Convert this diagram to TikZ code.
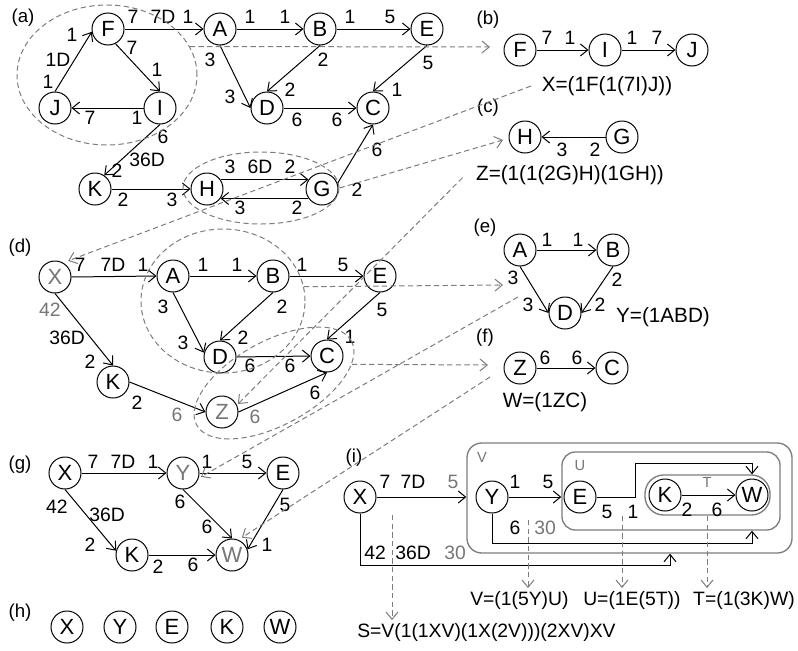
\documentclass[tikz,border=0pt]{standalone}
\usepackage{fontspec}
\setmainfont{Liberation Sans}
\usetikzlibrary{arrows.meta,shapes.geometric,calc}
\definecolor{gtext}{RGB}{118,118,118}
\definecolor{gline}{RGB}{125,125,125}
\begin{document}
\begin{tikzpicture}[x=0.75pt,y=-0.75pt,
  nd/.style={circle,draw,line width=0.75pt,minimum size=24pt,inner sep=0pt,font=\fontsize{16.5}{18}\selectfont},
  gnd/.style={nd,text=gtext},
  lb/.style={inner sep=0pt,font=\fontsize{14.5}{16}\selectfont},
  glb/.style={lb,text=gtext},
  fm/.style={inner sep=0pt,font=\fontsize{15.5}{18}\selectfont},
  fmi/.style={inner sep=0pt,font=\fontsize{14.5}{17}\selectfont},
  pl/.style={inner sep=0pt,font=\fontsize{14}{16}\selectfont},
  bl/.style={inner sep=0pt,text=gtext,font=\fontsize{11}{13}\selectfont},
  arr/.style={line width=0.75pt,-{Straight Barb[length=5.5pt,width=9pt]}},
  gd/.style={draw=gline,line width=0.75pt,dash pattern=on 4pt off 2.5pt},
  garr/.style={gd,-{Straight Barb[length=5.5pt,width=9pt]}},
  ell/.style={ellipse,draw=gline,line width=0.75pt,dash pattern=on 4pt off 2.5pt,inner sep=0pt},
  gbox/.style={draw=gline,line width=1pt,inner sep=0pt}
]
\useasboundingbox (0,0) rectangle (798,650);

% ---------------- panel (a)
\node[pl] (la) at (23,18) {(a)};
\node[nd] (aF) at (108,29) {F};
\node[nd] (aJ) at (55,108) {J};
\node[nd] (aI) at (160,108) {I};
\node[nd] (aA) at (220,29) {A};
\node[nd] (aB) at (320,29) {B};
\node[nd] (aE) at (427,29) {E};
\node[nd] (aD) at (267,108) {D};
\node[nd] (aC) at (373,108) {C};
\node[nd] (aK) at (95,189) {K};
\node[nd] (aH) at (207,189) {H};
\node[nd] (aG) at (322,189) {G};
\draw[arr] (aJ.north) -- (aF.190);
\draw[arr] (aF.-63) -- (aI.north);
\draw[arr] (aI.west) -- (aJ.east);
\draw[arr] (aF.east) -- (aA.west);
\draw[arr] (aA.east) -- (aB.west);
\draw[arr] (aB.east) -- (aE.west);
\draw[arr] (aA.south) -- (aD.west);
\draw[arr] (aB.south) -- (aD.north);
\draw[arr] (aE.south) -- (aC.north);
\draw[arr] (aD.east) -- (aC.west);
\draw[arr] (aG.20) -- (aC.south);
\draw[arr] (aI.south) -- (aK.56);
\draw[arr] (aK.east) -- (aH.west);
\draw[arr] (aH.35) -- (aG.145);
\draw[arr] (aG.-145) -- (aH.-35);
\node[lb] (a1) at (133,17) {7};
\node[lb] (a2) at (163,17) {7D};
\node[lb] (a3) at (188,17) {1};
\node[lb] (a4) at (250,17) {1};
\node[lb] (a5) at (285,17) {1};
\node[lb] (a6) at (350,17) {1};
\node[lb] (a7) at (390,17) {5};
\node[lb] (a8) at (72,35) {1};
\node[lb] (a9) at (58,60) {1D};
\node[lb] (a10) at (48,82) {1};
\node[lb] (a11) at (132,48) {7};
\node[lb] (a12) at (157,70) {1};
\node[lb] (a13) at (90,118) {7};
\node[lb] (a14) at (137,118) {1};
\node[lb] (a15) at (210,60) {3};
\node[lb] (a16) at (230,97) {3};
\node[lb] (a17) at (323,60) {2};
\node[lb] (a18) at (290,90) {2};
\node[lb] (a19) at (428,63) {5};
\node[lb] (a20) at (397,90) {1};
\node[lb] (a21) at (297,120) {6};
\node[lb] (a22) at (337,120) {6};
\node[lb] (a23) at (377,150) {6};
\node[lb] (a24) at (357,190) {2};
\node[lb] (a25) at (163,137) {6};
\node[lb] (a26) at (147,160) {36D};
\node[lb] (a27) at (117,171) {2};
\node[lb] (a28) at (123,200) {2};
\node[lb] (a29) at (172,200) {3};
\node[lb] (a30) at (230,167) {3};
\node[lb] (a31) at (260,167) {6D};
\node[lb] (a32) at (290,167) {2};
\node[lb] (a33) at (240,208) {3};
\node[lb] (a34) at (297,208) {2};
\node[ell,minimum width=135pt,minimum height=105pt] (ea) at (107,75) {};
\node[ell,minimum width=117pt,minimum height=54pt] (eb) at (261,188) {};

% ---------------- panel (b), (c)
\node[pl] (lbb) at (488,20) {(b)};
\node[nd] (bF) at (520,50) {F};
\node[nd] (bI) at (605,50) {I};
\node[nd] (bJ) at (692,50) {J};
\draw[arr] (bF.east) -- (bI.west);
\draw[arr] (bI.east) -- (bJ.west);
\node[lb] (b1) at (547,38) {7};
\node[lb] (b2) at (570,38) {1};
\node[lb] (b3) at (632,38) {1};
\node[lb] (b4) at (657,38) {7};
\node[fm] (mX) at (607,86) {X=(1F(1(7I)J))};
\node[pl] (lc) at (488,108) {(c)};
\node[nd] (cH) at (525,137) {H};
\node[nd] (cG) at (622,137) {G};
\draw[arr] (cG.west) -- (cH.east);
\node[lb] (c1) at (562,150) {3};
\node[lb] (c2) at (595,150) {2};
\node[fm] (mZ) at (570,175) {Z=(1(1(2G)H)(1GH))};

% ---------------- panel (d)
\node[pl] (ld) at (20,248) {(d)};
\node[gnd] (dX) at (55,277) {X};
\node[nd] (dA) at (173,276) {A};
\node[nd] (dB) at (273,276) {B};
\node[nd] (dE) at (380,276) {E};
\node[nd] (dD) at (220,357) {D};
\node[nd] (dC) at (327,356) {C};
\node[nd] (dK) at (113,382) {K};
\node[gnd] (dZ) at (222,412) {Z};
\draw[arr] (dX.east) -- (dA.west);
\draw[arr] (dA.east) -- (dB.west);
\draw[arr] (dB.east) -- (dE.west);
\draw[arr] (dX.south) -- (dK.north);
\draw[arr] (dA.south) -- (dD.165);
\draw[arr] (dB.south) -- (dD.north);
\draw[arr] (dE.south) -- (dC.north);
\draw[arr] (dD.east) -- (dC.west);
\draw[arr] (dK.east) -- (dZ.west);
\draw[arr] (dZ.east) -- (dC.south);
\node[lb] (d1) at (80,265) {7};
\node[lb] (d2) at (113,265) {7D};
\node[lb] (d3) at (143,265) {1};
\node[lb] (d4) at (203,265) {1};
\node[lb] (d5) at (237,265) {1};
\node[lb] (d6) at (302,265) {1};
\node[lb] (d7) at (343,265) {5};
\node[glb] (d8) at (50,310) {42};
\node[lb] (d9) at (67,338) {36D};
\node[lb] (d10) at (90,362) {2};
\node[lb] (d11) at (163,307) {3};
\node[lb] (d12) at (183,343) {3};
\node[lb] (d13) at (282,307) {2};
\node[lb] (d14) at (243,338) {2};
\node[lb] (d15) at (382,310) {5};
\node[lb] (d16) at (350,337) {1};
\node[lb] (d17) at (250,366) {6};
\node[lb] (d18) at (290,366) {6};
\node[lb] (d19) at (315,393) {6};
\node[glb] (d20) at (255,417) {6};
\node[lb] (d21) at (137,403) {2};
\node[glb] (d22) at (177,415) {6};
\node[ell,minimum width=123pt,minimum height=108pt] (ec) at (223,301) {};
\node[ell,minimum width=132pt,minimum height=63pt,rotate=28.5] (ed) at (274,383) {};

% ---------------- panel (e), (f)
\node[pl] (le) at (485,228) {(e)};
\node[nd] (eA) at (520,250) {A};
\node[nd] (eB) at (613,250) {B};
\node[nd] (eD) at (565,313) {D};
\draw[arr] (eA.east) -- (eB.west);
\draw[arr] (eA.south) -- (eD.west);
\draw[arr] (eB.south) -- (eD.east);
\node[lb] (e1) at (547,240) {1};
\node[lb] (e2) at (578,240) {1};
\node[lb] (e3) at (513,278) {3};
\node[lb] (e4) at (528,305) {3};
\node[lb] (e5) at (617,280) {2};
\node[lb] (e6) at (600,305) {2};
\node[fm] (mY) at (663,317) {Y=(1ABD)};
\node[pl] (lf) at (485,338) {(f)};
\node[nd] (fZ) at (520,368) {Z};
\node[nd] (fC) at (612,368) {C};
\draw[arr] (fZ.east) -- (fC.west);
\node[lb] (f1) at (545,358) {6};
\node[lb] (f2) at (577,358) {6};
\node[fm] (mW) at (545,402) {W=(1ZC)};

% ---------------- panel (g), (h)
\node[pl] (lg) at (20,465) {(g)};
\node[nd] (gX) at (65,473) {X};
\node[gnd] (gY) at (183,473) {Y};
\node[nd] (gE) at (283,473) {E};
\node[nd] (gK) at (132,555) {K};
\node[gnd] (gW) at (232,555) {W};
\draw[arr] (gX.east) -- (gY.west);
\draw[arr] (gY.east) -- (gE.west);
\draw[arr] (gX.south) -- (gK.165);
\draw[arr] (gY.south) -- (gW.north);
\draw[arr] (gE.south) -- (gW.20);
\draw[arr] (gK.east) -- (gW.west);
\node[lb] (g1) at (93,462) {7};
\node[lb] (g2) at (123,462) {7D};
\node[lb] (g3) at (153,462) {1};
\node[lb] (g4) at (207,462) {1};
\node[lb] (g5) at (247,462) {5};
\node[lb] (g6) at (57,507) {42};
\node[lb] (g7) at (107,515) {36D};
\node[lb] (g8) at (90,545) {2};
\node[lb] (g9) at (180,502) {6};
\node[lb] (g10) at (207,527) {6};
\node[lb] (g11) at (285,505) {5};
\node[lb] (g12) at (267,545) {1};
\node[lb] (g13) at (158,567) {2};
\node[lb] (g14) at (193,565) {6};
\node[pl] (lh) at (20,613) {(h)};
\node[nd] (hX) at (67,627) {X};
\node[nd] (hY) at (120,627) {Y};
\node[nd] (hE) at (172,627) {E};
\node[nd] (hK) at (227,627) {K};
\node[nd] (hW) at (280,627) {W};

% ---------------- panel (i)
\node[pl] (li) at (354,458) {(i)};
\node[gbox,rounded corners=11pt,minimum width=243.75pt,minimum height=82.5pt] (Vb) at (629.5,498) {};
\node[gbox,rounded corners=10pt,minimum width=163.5pt,minimum height=58.5pt] (Ub) at (671,491) {};
\node[gbox,rounded corners=14pt,minimum width=93.75pt,minimum height=30pt] (Tb) at (707.5,495) {};
\node[bl] (vl) at (482,457) {V};
\node[bl] (ul) at (580,466) {U};
\node[bl] (tl) at (707,482) {T};
\node[nd] (iX) at (360,497) {X};
\node[nd] (iY) at (492,497) {Y};
\node[nd] (iE) at (580,497) {E};
\node[nd] (iK) at (665,495) {K};
\node[nd] (iW) at (752,495) {W};
\coordinate (ie1) at (635,463);
\coordinate (ixv) at (670,0);
\draw[arr] (iX.east) -- (iX.east -| Vb.west);
\draw[arr] (iY.east) -- (iY.east -| Ub.west);
\draw[arr] (iE.east) -| (ie1) -| (Tb.north -| iW);
\draw[arr] (iK.east) -- (iW.west);
\draw[arr] (iY.south) |- ($(Ub.south -| iW)+(0,13)$) -- (Ub.south -| iW);
\draw[arr] (iX.south) |- ($(Vb.south -| ixv)+(0,12)$) -- (Vb.south -| ixv);
\node[lb] (i1) at (385,482) {7};
\node[lb] (i2) at (413,482) {7D};
\node[glb] (i3) at (453,482) {5};
\node[lb] (i4) at (515,482) {1};
\node[lb] (i5) at (548,482) {5};
\node[lb] (i6) at (607,512) {5};
\node[lb] (i7) at (633,512) {1};
\node[lb] (i8) at (687,510) {2};
\node[lb] (i9) at (717,510) {6};
\node[lb] (i10) at (515,528) {6};
\node[glb] (i11) at (545,528) {30};
\node[lb] (i12) at (375,553) {42};
\node[lb] (i13) at (413,553) {36D};
\node[glb] (i14) at (455,553) {30};
\node[fmi,anchor=west] (mV) at (470,600) {V=(1(5Y)U)};
\node[fmi,anchor=west] (mU) at (583,600) {U=(1E(5T))};
\node[fmi,anchor=east] (mT) at (795,600) {T=(1(3K)W)};
\node[fmi,anchor=west] (mS) at (357,632) {S=V(1(1XV)(1X(2V)))(2XV)XV};
\coordinate (sS) at (392,515);
\coordinate (sV) at (528,520);
\coordinate (sU) at (622,516);
\coordinate (sT) at (707,516);
\draw[garr,shorten >=2pt] (sS) -- (sS |- mS.north);
\draw[garr,shorten >=2pt] (sV) -- (sV |- mV.north);
\draw[garr,shorten >=2pt] (sU) -- (sU |- mU.north);
\draw[garr,shorten >=2pt] (sT) -- (sT |- mT.north);

% ---------------- grey dashed links between panels
\coordinate (tb) at (490,47);
\coordinate (tc) at (503,140);
\coordinate (te) at (503,285);
\coordinate (tf) at (488,365);
\coordinate (sY) at (518,297);
\coordinate (sW) at (490,377);
\draw[garr] (ea.19) -- (tb);
\draw[garr] (eb.east) -- (tc);
\draw[garr] (ec.10.6) -- (te);
\draw[garr] (ed.-15) -- (tf);
\draw[garr,shorten >=4pt] ([xshift=-8pt]mX.west) -- (dX.60);
\draw[garr,shorten >=1pt] ([xshift=-10pt,yshift=-2pt]mZ.west) -- (dZ.25);
\draw[garr,shorten >=2pt] (sY) -- (gY.-18);
\draw[garr,shorten >=3pt] (sW) -- (gW.67);
\end{tikzpicture}
\end{document}
